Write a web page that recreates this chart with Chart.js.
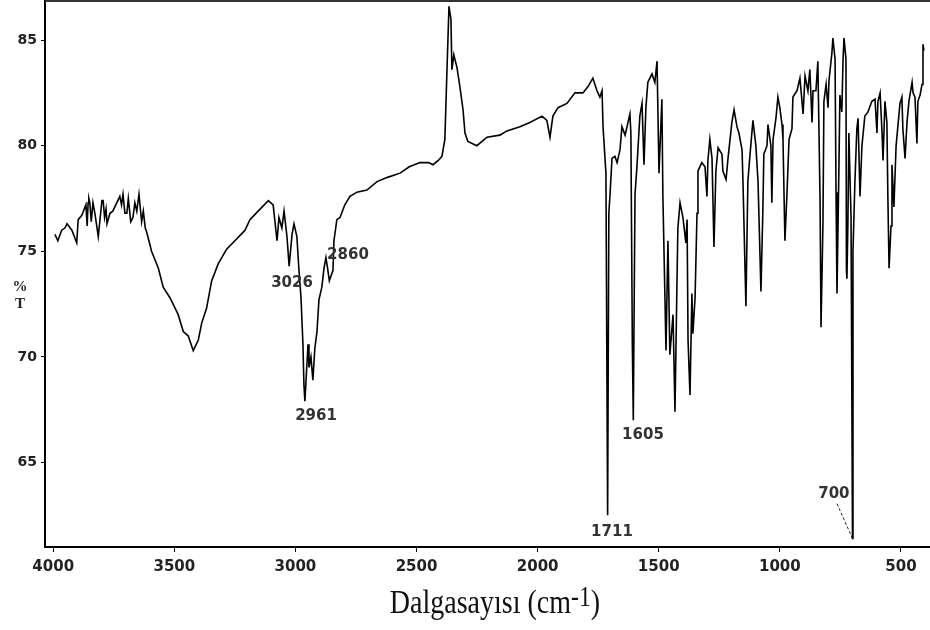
<!DOCTYPE html>
<html>
<head>
<meta charset="utf-8">
<script src="https://cdn.jsdelivr.net/npm/chart.js@4.4.1/dist/chart.umd.min.js"></script>
<style>
  body { margin: 0; background: #fff; }
  #wrap { position: relative; width: 930px; height: 630px; }
  #yTitle { position: absolute; left: 10px; top: 278px; width: 20px; text-align: center;
            font: bold 15px "Liberation Serif", serif; line-height: 17px; color: #222; }
  #xTitle { position: absolute; left: 495px; top: 583px; transform: translateX(-50%) scaleY(1.2);
            transform-origin: center top; white-space: nowrap;
            font: 28px "Liberation Serif", serif; color: #111; }
  #xTitle sup { font-size: 0.85em; position: relative; top: -2px; vertical-align: top; }
</style>
</head>
<body>
<div id="wrap">
  <canvas id="irChart" width="930" height="630"></canvas>
  <div id="yTitle">%<br>T</div>
  <div id="xTitle">Dalgasayısı (cm<sup>-1</sup>)</div>
</div>
<script>
// wavenumber (cm-1), high to low
var wavenumbers = [
  3993, 3981, 3965, 3952, 3943, 3923, 3903, 3897, 3882, 3865, 3860, 3856, 3853, 3849, 3843, 3836,
  3828, 3814, 3799, 3794, 3788, 3782, 3778, 3766, 3754, 3725, 3718, 3712, 3704, 3696, 3690, 3680,
  3671, 3663, 3655, 3646, 3635, 3628, 3620, 3614, 3594, 3566, 3546, 3518, 3484,
  3463, 3443, 3422, 3401, 3387, 3367, 3346, 3319, 3284, 3250, 3208, 3188, 3154, 3112, 3092, 3076,
  3068, 3056, 3047, 3035, 3026, 3014, 3006, 2994, 2986, 2977, 2969, 2965, 2961, 2948, 2944, 2936,
  2928, 2920, 2911, 2903, 2891, 2882, 2874, 2866, 2860, 2845, 2841, 2829, 2816, 2796, 2775, 2746,
  2705, 2663, 2620, 2568, 2530, 2486, 2450, 2432, 2410, 2395, 2383, 2374, 2366, 2358, 2354, 2346,
  2333, 2321, 2308, 2300, 2288, 2251, 2209, 2156, 2127, 2073, 2032, 1982, 1962, 1949, 1937, 1916,
  1879, 1846, 1813, 1792, 1772, 1755, 1743, 1734, 1730, 1718, 1711, 1706, 1701, 1693, 1681, 1672,
  1660, 1652, 1639, 1627, 1619, 1615, 1609, 1605, 1598, 1590, 1578, 1569, 1561, 1553, 1545, 1528,
  1516, 1507, 1499, 1487, 1483, 1470, 1462, 1454, 1441, 1433, 1425, 1421, 1412, 1400, 1388, 1383,
  1379, 1371, 1363, 1359, 1350, 1342, 1338, 1322, 1309, 1301, 1297, 1289, 1280, 1272, 1264, 1255,
  1239, 1235, 1222, 1214, 1198, 1189, 1177, 1169, 1156, 1152, 1140, 1132, 1123, 1111, 1099, 1090,
  1078, 1070, 1066, 1053, 1049, 1037, 1033, 1028, 1016, 1008, 1000, 991, 987, 979, 971, 962,
  950, 946, 929, 917, 904, 896, 884, 876, 867, 863, 851, 843, 834, 830, 822, 818,
  809, 801, 797, 785, 781, 772, 768, 764, 756, 752, 744, 739, 735, 727, 725, 723,
  719, 715, 706, 700, 698, 690, 682, 677, 669, 661, 649, 636, 620, 607, 599, 595,
  586, 578, 574, 566, 558, 554, 549, 541, 537, 529, 520, 512, 504, 496, 492, 483,
  475, 467, 454, 450, 442, 434, 430, 421, 413, 409, 405
];

// %T at each wavenumber
var transmittance = [
  75.8, 75.5, 76.0, 76.1, 76.3, 76.0, 75.4, 76.5, 76.7, 77.2, 76.2, 77.3, 77.5, 77.3, 76.4, 77.3,
  76.8, 75.7, 77.4, 77.4, 76.6, 77.0, 76.3, 76.8, 76.9, 77.6, 77.2, 77.7, 76.8, 76.8, 77.5, 76.4,
  76.6, 77.3, 76.9, 77.7, 76.4, 76.9, 76.1, 75.9, 75.0, 74.2, 73.3, 72.8, 72.0,
  71.2, 71.0, 70.3, 70.8, 71.6, 72.3, 73.6, 74.4, 75.1, 75.5, 76.0, 76.5, 76.9, 77.4, 77.2, 75.5,
  76.6, 76.1, 76.9, 75.7, 74.3, 75.8, 76.3, 75.7, 74.2, 72.8, 70.6, 68.7, 67.9, 70.6, 69.5, 70.0,
  68.9, 70.4, 71.2, 72.7, 73.3, 74.2, 74.7, 74.1, 73.6, 74.1, 75.5, 76.5, 76.6, 77.2, 77.6, 77.8,
  77.9, 78.3, 78.5, 78.7, 79.0, 79.2, 79.2, 79.1, 79.3, 79.5, 80.3, 83.7, 86.6, 86.0, 83.6, 84.3,
  83.7, 82.8, 81.7, 80.6, 80.2, 80.0, 80.4, 80.5, 80.7, 80.9, 81.1, 81.4, 81.2, 80.4, 81.4, 81.8,
  82.0, 82.5, 82.5, 82.8, 83.2, 82.6, 82.3, 82.6, 80.9, 78.7, 62.5, 76.8, 77.7, 79.4, 79.5, 79.2,
  79.8, 80.9, 80.5, 81.1, 81.5, 80.6, 70.6, 67.0, 77.7, 79.0, 81.4, 82.0, 79.1, 81.8, 83.0, 83.4,
  83.0, 84.0, 78.7, 82.2, 77.7, 70.3, 75.5, 70.1, 72.0, 67.4, 73.3, 76.1, 77.3, 76.6, 75.4, 76.5,
  70.8, 68.2, 73.0, 71.1, 72.8, 76.8, 78.8, 79.2, 79.0, 77.6, 79.3, 80.3, 79.4, 75.2, 78.8, 79.9,
  79.6, 78.8, 78.4, 79.4, 81.1, 81.7, 80.9, 80.6, 79.8, 78.2, 72.4, 78.3, 79.6, 81.2, 80.0, 78.3,
  73.1, 77.0, 79.6, 80.0, 81.0, 80.0, 77.3, 80.3, 81.3, 82.3, 81.8, 81.0, 80.3, 75.5, 77.6, 80.3,
  80.8, 82.3, 82.6, 83.2, 81.5, 83.3, 82.6, 83.6, 81.1, 82.6, 82.6, 84.0, 77.5, 71.4, 76.3, 82.1,
  82.9, 81.8, 83.1, 84.4, 85.1, 84.1, 77.8, 73.0, 79.0, 82.4, 81.6, 84.1, 85.1, 84.1, 74.1, 73.7,
  76.3, 80.6, 76.6, 61.4, 75.0, 78.3, 80.8, 81.3, 77.6, 80.0, 81.4, 81.6, 82.1, 82.2, 80.6, 82.1,
  82.5, 80.6, 79.3, 82.1, 81.1, 77.6, 74.2, 76.2, 79.1, 77.1, 80.0, 81.0, 82.0, 82.3, 80.8, 79.4,
  81.1, 82.1, 83.0, 82.5, 82.3, 80.1, 82.1, 82.4, 82.9, 84.8, 84.5
];

var xTickValues = [4000, 3500, 3000, 2500, 2000, 1500, 1000, 500];
var yTickValues = [65, 70, 75, 80, 85];
var peakLabels = ['3026', '2860', '2961', '1605', '1711', '700'];

document.addEventListener('DOMContentLoaded', function () {
  var ctx = document.getElementById('irChart').getContext('2d');

  var points = wavenumbers.map(function (w, i) { return { x: w, y: transmittance[i] }; });

  // where each peak label sits (data units)
  var labelSpots = {
    '3026': [3014, 73.5],
    '2860': [2783, 74.8],
    '2961': [2915, 67.2],
    '1605': [1565, 66.3],
    '1711': [1693, 61.7],
    '700':  [777, 63.5]
  };

  var framePlugin = {
    id: 'frame',
    afterDraw: function (chart) {
      var a = chart.chartArea, c = chart.ctx;
      c.save();
      c.strokeStyle = '#333';
      c.lineWidth = 2;
      c.beginPath();
      c.moveTo(a.left, a.top);
      c.lineTo(a.right, a.top);
      c.stroke();
      c.restore();
    }
  };

  var peakPlugin = {
    id: 'peaks',
    afterDatasetsDraw: function (chart) {
      var c = chart.ctx, xs = chart.scales.x, ys = chart.scales.y;
      c.save();
      c.fillStyle = '#333';
      c.font = 'bold 15px "DejaVu Sans"';
      c.textAlign = 'center';
      c.textBaseline = 'middle';
      peakLabels.forEach(function (t) {
        var p = labelSpots[t];
        c.fillText(t, xs.getPixelForValue(p[0]), ys.getPixelForValue(p[1]));
      });
      // dashed leader for 700
      c.strokeStyle = '#222';
      c.lineWidth = 1;
      c.setLineDash([3, 2]);
      c.beginPath();
      c.moveTo(xs.getPixelForValue(764), ys.getPixelForValue(63.05));
      c.lineTo(xs.getPixelForValue(700), ys.getPixelForValue(61.4));
      c.stroke();
      c.restore();
    }
  };

  new Chart(ctx, {
    type: 'line',
    data: {
      datasets: [{
        data: points,
        borderColor: '#000',
        borderWidth: 1.6,
        pointRadius: 0,
        tension: 0,
        fill: false
      }]
    },
    options: {
      responsive: false,
      animation: false,
      layout: { padding: { top: 1, right: 0, left: 0, bottom: 0 } },
      plugins: {
        legend: { display: false },
        tooltip: { enabled: false }
      },
      scales: {
        x: {
          type: 'linear',
          reverse: true,
          min: 380,
          max: 4034,
          afterBuildTicks: function (s) { s.ticks = xTickValues.map(function (v) { return { value: v }; }); },
          afterFit: function (s) { s.height = 83; s.paddingLeft = 0; s.paddingRight = 0; },
          grid: { drawOnChartArea: false, drawTicks: true, tickLength: 5, color: '#000' },
          border: { display: true, color: '#000', width: 2 },
          ticks: {
            color: '#222',
            padding: 6,
            maxRotation: 0,
            font: { family: 'DejaVu Sans', size: 15, weight: 'bold' },
            callback: function (v) { return String(v); }
          }
        },
        y: {
          min: 61,
          max: 86.85,
          afterBuildTicks: function (s) { s.ticks = yTickValues.map(function (v) { return { value: v }; }); },
          afterFit: function (s) { s.width = 45; s.paddingTop = 0; s.paddingBottom = 0; },
          grid: { drawOnChartArea: false, drawTicks: true, tickLength: 4, color: '#000' },
          border: { display: true, color: '#000', width: 2 },
          ticks: {
            color: '#222',
            padding: 4,
            font: { family: 'DejaVu Sans', size: 14, weight: 'bold' },
            callback: function (v) { return String(v); }
          }
        }
      }
    },
    plugins: [framePlugin, peakPlugin]
  });
});
</script>
</body>
</html>
